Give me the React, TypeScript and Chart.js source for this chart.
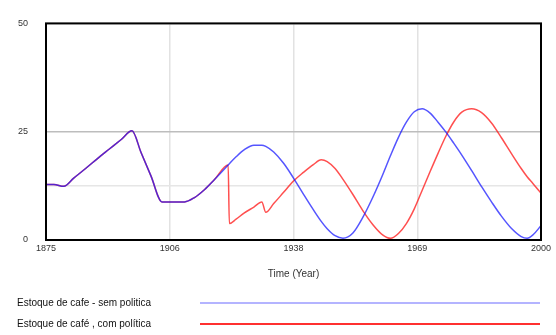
import React, { useEffect, useRef } from "react";
import { Chart, registerables } from "chart.js";

Chart.register(...registerables);

const years = [
  1875, 1877, 1879.5, 1882, 1885, 1888, 1891, 1894, 1896.7, 1899, 1901.5, 1904.3, 1907, 1910,
  1912.5, 1915, 1917.5, 1921, 1921.3, 1923, 1925, 1927.5, 1929.5, 1930.5, 1932.5, 1935, 1937.5,
  1940, 1942.5, 1944.5, 1946, 1948, 1950, 1952.5, 1955, 1957.5, 1960, 1962, 1964, 1966, 1968,
  1970, 1972, 1974, 1976, 1978, 1980, 1982.5, 1985, 1987.5, 1990, 1992.5, 1995, 1996.5, 1998, 2000,
];

const semPolitica = [
  12.8, 12.8, 12.4, 14.3, 16.5, 18.8, 21.0, 23.2, 25.2, 20.2, 14.8, 8.8, 8.8, 8.8,
  9.8, 11.6, 13.9, 17.3, 17.6, 19.2, 20.8, 21.9, 21.9, 21.6, 20.3, 17.7, 14.3,
  10.6, 7.0, 4.3, 2.6, 1.0, 0.4, 1.6, 5.2, 9.8, 15.0, 19.5, 23.7, 27.2, 29.6,
  30.3, 29.3, 27.2, 24.9, 22.3, 19.6, 16.0, 12.3, 8.8, 5.5, 2.7, 0.8, 0.4, 1.2, 3.3,
];

const comPolitica = [
  12.8, 12.8, 12.4, 14.3, 16.5, 18.8, 21.0, 23.2, 25.2, 20.2, 14.8, 8.8, 8.8, 8.8,
  9.8, 11.6, 13.9, 17.3, 3.8, 4.8, 6.2, 7.6, 8.8, 6.4, 8.4, 11.0, 13.6,
  15.6, 17.4, 18.5, 18.1, 16.5, 14.0, 10.5, 6.8, 3.6, 1.2, 0.4, 1.5, 3.8, 7.2,
  11.5, 15.8, 20.0, 24.0, 27.3, 29.5, 30.3, 29.4, 27.0, 23.6, 20.0, 16.5, 14.6, 13.0, 10.8,
];

const xTickValues = [1875, 1906.25, 1937.5, 1968.75, 2000];
const xTickLabels = ["1875", "1906", "1938", "1969", "2000"];
const yTickValues = [0, 12.5, 25, 50];
const yTickLabels: Record<string, string> = { "0": "0", "25": "25", "50": "50" };

const seriesNames = ["Estoque de cafe - sem politica", "Estoque de café , com política"];

const frame = {
  id: "frame",
  afterDatasetsDraw(chart: any) {
    const { ctx, chartArea: a } = chart;
    ctx.save();
    ctx.strokeStyle = "#000";
    ctx.lineWidth = 2;
    ctx.strokeRect(a.left, a.top, a.right - a.left, a.bottom - a.top);
    ctx.restore();
  },
};

export default function App() {
  const ref = useRef<HTMLCanvasElement | null>(null);
  useEffect(() => {
    document.body.style.margin = "0";
    const chart = new Chart(ref.current as HTMLCanvasElement, {
      type: "line",
      data: {
        datasets: [
          {
            label: seriesNames[0],
            data: years.map((x, i) => ({ x, y: semPolitica[i] })),
            borderColor: "rgba(20,20,255,0.72)",
            borderWidth: 1.5,
            pointRadius: 0,
            cubicInterpolationMode: "monotone",
          },
          {
            label: seriesNames[1],
            data: years.map((x, i) => ({ x, y: comPolitica[i] })),
            borderColor: "rgba(255,20,20,0.75)",
            borderWidth: 1.5,
            pointRadius: 0,
            cubicInterpolationMode: "monotone",
          },
        ],
      },
      options: {
        animation: false,
        responsive: false,
        layout: { padding: { top: 14, right: 15, left: 0, bottom: 55 } },
        plugins: { legend: { display: false }, tooltip: { enabled: false } },
        scales: {
          x: {
            type: "linear",
            min: 1875,
            max: 2000,
            afterBuildTicks: (s: any) => {
              s.ticks = xTickValues.map((v) => ({ value: v }));
            },
            afterFit: (s: any) => {
              s.height = 40;
            },
            ticks: {
              autoSkip: false,
              maxRotation: 0,
              padding: 3,
              color: "#333",
              font: { family: "Liberation Sans", size: 9 },
              callback: (v: any) => {
                const i = xTickValues.indexOf(Number(v));
                return i >= 0 ? xTickLabels[i] : "";
              },
            },
            grid: { color: "#e2e2e2", lineWidth: 1.5, drawTicks: false },
            border: { display: false },
            title: {
              display: true,
              text: "Time (Year)",
              color: "#333",
              font: { family: "Liberation Sans", size: 10 },
              padding: { top: 4, bottom: 0 },
            },
          },
          y: {
            min: 0,
            max: 50,
            afterBuildTicks: (s: any) => {
              s.ticks = yTickValues.map((v) => ({ value: v }));
            },
            afterFit: (s: any) => {
              s.width = 46;
            },
            ticks: {
              padding: 18,
              color: "#333",
              font: { family: "Liberation Sans", size: 9 },
              callback: (v: any) => yTickLabels[String(v)] ?? "",
            },
            grid: {
              drawTicks: false,
              lineWidth: 1.5,
              color: (c: any) => (c.tick && c.tick.value === 25 ? "#bdbdbd" : "#e6e6e6"),
            },
            border: { display: false },
          },
        },
      },
      plugins: [frame],
    } as any);
    return () => chart.destroy();
  }, []);

  const legendColors = ["#b4b4ff", "#ff3030"];
  const text = { fontFamily: "Liberation Sans", fontSize: 10, color: "#111", whiteSpace: "nowrap" as const };
  return (
    <div style={{ position: "relative", width: 556, height: 335 }}>
      <canvas ref={ref} width={556} height={335} style={{ display: "block" }} />
      {seriesNames.map((n, i) => (
        <div key={n} style={{ position: "absolute", left: 17, top: 297 + i * 21, height: 12, width: 530 }}>
          <span style={{ ...text, position: "absolute", left: 0, top: 0 }}>{n}</span>
          <div style={{ position: "absolute", left: 183, top: 5, width: 340, height: 2, background: legendColors[i] }} />
        </div>
      ))}
    </div>
  );
}
